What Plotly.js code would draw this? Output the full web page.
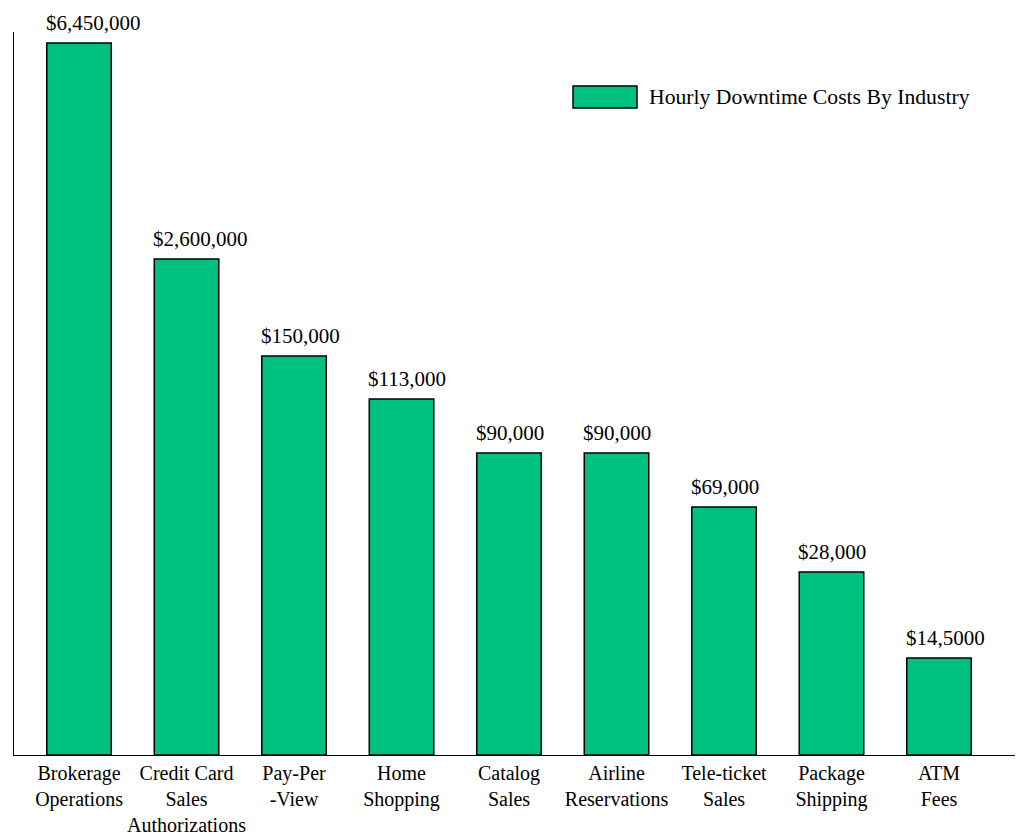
<!DOCTYPE html>
<html>
<head>
<meta charset="utf-8">
<script src="https://cdn.plot.ly/plotly-3.0.1.min.js"></script>
<style>html,body{margin:0;padding:0;background:#fff;}#chart{width:1017px;height:836px;}</style>
</head>
<body>
<div id="chart"></div>
<script>
// Categories (tick labels)
var categories = [
  "Brokerage<br>Operations",
  "Credit Card<br>Sales<br>Authorizations",
  "Pay-Per<br>-View",
  "Home<br>Shopping",
  "Catalog<br>Sales",
  "Airline<br>Reservations",
  "Tele-ticket<br>Sales",
  "Package<br>Shipping",
  "ATM<br>Fees"
];
// Bar heights as drawn in the picture (the chart is not to scale; no value axis)
var barHeights = [712, 496, 399, 356, 302, 302, 248, 183, 97];
// Value labels shown above the bars
var valueLabels = ["$6,450,000", "$2,600,000", "$150,000", "$113,000", "$90,000", "$90,000", "$69,000", "$28,000", "$14,5000"];
var seriesName = "Hourly Downtime Costs By Industry";

var fontFam = "'Liberation Serif', 'Times New Roman', serif";
var green = "#00C080";
var barWidth = 0.6;

var xs = categories.map(function(c, i){ return i; });

var trace = {
  type: "bar",
  x: xs,
  y: barHeights,
  width: barWidth,
  name: seriesName,
  marker: {color: green, line: {color: "#000", width: 1.5}},
  hoverinfo: "none"
};

// value labels, left-aligned with the left edge of each bar
var annotations = valueLabels.map(function(t, i){
  return {
    x: xs[i] - barWidth / 2, y: barHeights[i], xref: "x", yref: "y",
    xanchor: "left", yanchor: "bottom", yshift: 6, xshift: -3,
    text: t, showarrow: false,
    font: {family: fontFam, size: 21, color: "#000"}
  };
});
annotations.push({
  xref: "paper", yref: "paper",
  x: (647 - 14) / 1001, y: (755 - 97) / 723,
  xanchor: "left", yanchor: "middle",
  text: seriesName, showarrow: false,
  font: {family: fontFam, size: 21.7, color: "#000"}
});

var layout = {
  width: 1017, height: 836,
  margin: {l: 14, r: 2, t: 32, b: 81},
  paper_bgcolor: "#fff", plot_bgcolor: "#fff",
  showlegend: false,
  font: {family: fontFam, size: 20, color: "#000"},
  xaxis: {
    range: [-0.605, 8.707],
    tickmode: "array",
    tickvals: xs,
    ticktext: categories,
    ticks: "",
    showgrid: false, zeroline: false,
    showline: true, linecolor: "#000", linewidth: 1,
    tickfont: {family: fontFam, size: 20, color: "#000"},
    fixedrange: true
  },
  yaxis: {
    range: [0, 723],
    showticklabels: false, ticks: "",
    showgrid: false, zeroline: false,
    showline: true, linecolor: "#000", linewidth: 1,
    fixedrange: true
  },
  shapes: [{
    type: "rect", xref: "paper", yref: "paper",
    x0: (573 - 14) / 1001, x1: (637 - 14) / 1001,
    y0: (755 - 108) / 723, y1: (755 - 86) / 723,
    fillcolor: green, line: {color: "#000", width: 1.5}
  }],
  annotations: annotations
};

Plotly.newPlot("chart", [trace], layout, {displayModeBar: false, staticPlot: true});
</script>
</body>
</html>
